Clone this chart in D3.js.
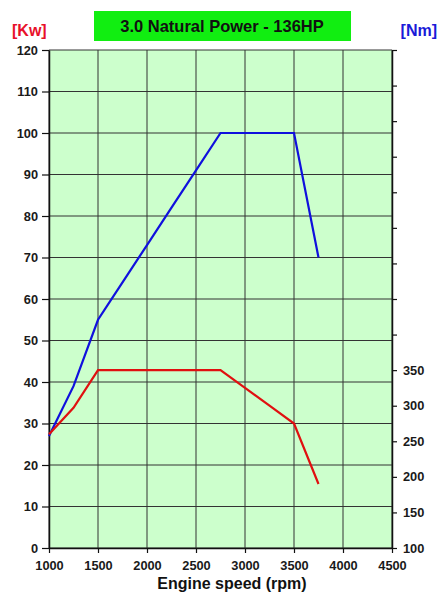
<!DOCTYPE html>
<html>
<head>
<meta charset="utf-8">
<script src="https://cdn.jsdelivr.net/npm/d3@7"></script>
<style>
  body { margin: 0; background: #fff; }
  svg text { font-family: "Liberation Sans", Arial, sans-serif; font-weight: bold; }
</style>
</head>
<body>
<div id="chart"></div>
<script>
// engine speed samples (rpm)
const rpm = [1000, 1250, 1500, 1750, 2000, 2250, 2500, 2750, 3000, 3250, 3500, 3750];
// power curve, left axis [Kw]
const power = [27, 39, 55, 64, 73, 82, 91, 100, 100, 100, 100, 70];
// torque curve, right axis [Nm]
const torque = [260, 297, 350, 350, 350, 350, 350, 350, 325, 300, 275, 190];

const xTicks = [1000, 1500, 2000, 2500, 3000, 3500, 4000, 4500];
const leftTicks = [0, 10, 20, 30, 40, 50, 60, 70, 80, 90, 100, 110, 120];
const rightTicks = [100, 150, 200, 250, 300, 350, 400, 450, 500, 550, 600, 650, 700, 750, 800];
const rightLabelled = [100, 150, 200, 250, 300, 350];

const width = 437, height = 592;
const margin = { top: 50, right: 45, bottom: 44, left: 49 };
const innerW = width - margin.left - margin.right;
const innerH = height - margin.top - margin.bottom;

const svg = d3.select('#chart').append('svg')
    .attr('width', width)
    .attr('height', height);

const g = svg.append('g')
    .attr('transform', `translate(${margin.left},${margin.top})`);

const x = d3.scaleLinear().domain([1000, 4500]).range([0, innerW]);
const yL = d3.scaleLinear().domain([0, 120]).range([innerH, 0]);
const yR = d3.scaleLinear().domain([100, 800]).range([innerH, 0]);

// plot background
g.append('rect')
    .attr('width', innerW)
    .attr('height', innerH)
    .attr('fill', '#ccffcc');

// grid
g.append('g').selectAll('line')
    .data(leftTicks)
    .enter().append('line')
    .attr('x1', 0).attr('x2', innerW)
    .attr('y1', d => yL(d)).attr('y2', d => yL(d))
    .attr('stroke', '#333').attr('stroke-width', 1);

g.append('g').selectAll('line')
    .data(xTicks)
    .enter().append('line')
    .attr('x1', d => x(d)).attr('x2', d => x(d))
    .attr('y1', 0).attr('y2', innerH)
    .attr('stroke', '#333').attr('stroke-width', 1);

// axes
const styleAxis = sel => {
    sel.select('.domain').attr('stroke', '#111').attr('stroke-width', 1.5);
    sel.selectAll('.tick line').attr('stroke', '#111').attr('stroke-width', 1.2);
    sel.selectAll('.tick text').attr('fill', '#1a1a1a').style('font-size', '12.8px');
};

g.append('g')
    .attr('transform', `translate(0,${innerH})`)
    .call(d3.axisBottom(x).tickValues(xTicks).tickFormat(d3.format('d'))
        .tickSize(5).tickSizeOuter(0).tickPadding(8))
    .call(styleAxis);

g.append('g')
    .call(d3.axisLeft(yL).tickValues(leftTicks).tickSize(7).tickSizeOuter(0).tickPadding(4))
    .call(styleAxis);

g.append('g')
    .attr('transform', `translate(${innerW},0)`)
    .call(d3.axisRight(yR).tickValues(rightTicks).tickSize(5).tickSizeOuter(0).tickPadding(6)
        .tickFormat(d => rightLabelled.includes(d) ? d : ''))
    .call(styleAxis);

// curves
const powerLine = d3.line()
    .x((d, i) => x(rpm[i]))
    .y(d => yL(d));

const torqueLine = d3.line()
    .x((d, i) => x(rpm[i]))
    .y(d => yR(d));

g.append('path')
    .datum(power)
    .attr('d', powerLine)
    .attr('fill', 'none')
    .attr('stroke', '#1010dd')
    .attr('stroke-width', 2.2);

g.append('path')
    .datum(torque)
    .attr('d', torqueLine)
    .attr('fill', 'none')
    .attr('stroke', '#e01010')
    .attr('stroke-width', 2.2);

// title box
svg.append('rect')
    .attr('x', 94).attr('y', 11)
    .attr('width', 257).attr('height', 30)
    .attr('fill', '#11ee11');

svg.append('text')
    .attr('x', 222).attr('y', 32)
    .attr('text-anchor', 'middle')
    .style('font-size', '16.5px')
    .attr('fill', '#111')
    .text('3.0 Natural Power - 136HP');

// unit labels
svg.append('text')
    .attr('x', 12).attr('y', 36)
    .style('font-size', '16px')
    .attr('fill', '#e8102a')
    .text('[Kw]');

svg.append('text')
    .attr('x', 437).attr('y', 36)
    .attr('text-anchor', 'end')
    .style('font-size', '16px')
    .attr('fill', '#1a1ad8')
    .text('[Nm]');

// x axis title
svg.append('text')
    .attr('x', 232).attr('y', 589)
    .attr('text-anchor', 'middle')
    .style('font-size', '16px')
    .attr('fill', '#111')
    .text('Engine speed (rpm)');
</script>
</body>
</html>
